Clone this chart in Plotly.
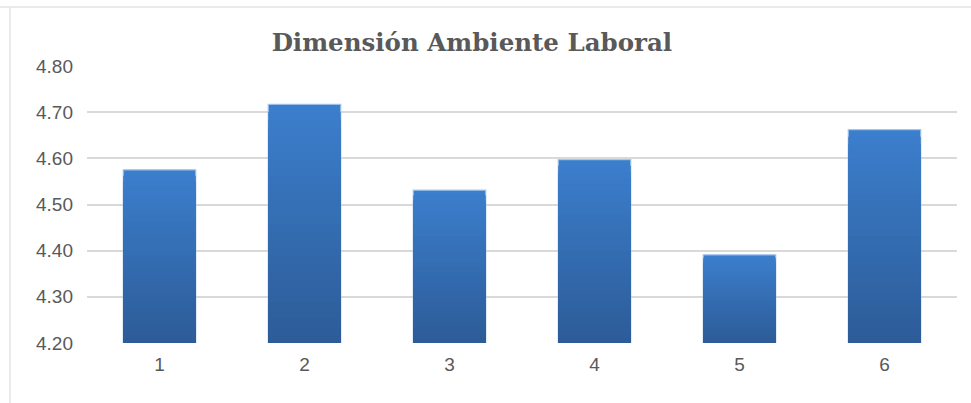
import plotly.graph_objects as go

categories = ["1", "2", "3", "4", "5", "6"]
values = [4.575, 4.717, 4.531, 4.597, 4.391, 4.662]
y_ticks = [4.20, 4.30, 4.40, 4.50, 4.60, 4.70, 4.80]
y_tick_labels = ["4.20", "4.30", "4.40", "4.50", "4.60", "4.70", "4.80"]
title_text = "Dimensión Ambiente Laboral"

base_val = 4.20
top_rgb = (59, 126, 204)
bot_rgb = (45, 92, 152)
steps = 30

fig = go.Figure()
for k in range(steps):
    frac = 1 - k / steps
    t = k / (steps - 1)
    c = tuple(round(top_rgb[i] + (bot_rgb[i] - top_rgb[i]) * t) for i in range(3))
    fig.add_trace(go.Bar(
        x=categories,
        y=[(v - base_val) * frac for v in values],
        base=[base_val] * len(values),
        marker=dict(color="rgb(%d,%d,%d)" % c,
                    line=dict(width=1.2 if k == 0 else 0, color="rgba(160,195,235,0.9)")),
        width=0.5,
        showlegend=False,
        hoverinfo="skip",
    ))

fig.update_layout(
    barmode="overlay",
    width=971, height=403,
    margin=dict(l=87, r=14, t=66, b=60),
    paper_bgcolor="white",
    plot_bgcolor="white",
    title=dict(text="<b>" + title_text + "</b>", x=0.486, xanchor="center",
               y=1 - 42 / 403, yref="container", yanchor="middle",
               font=dict(family="DejaVu Serif", size=24.5, color="#595959")),
    xaxis=dict(type="category", range=[-0.5, 5.5], showgrid=False,
               showline=False, zeroline=False, ticks="",
               tickfont=dict(family="Liberation Sans", size=19, color="#595959"),
               ticklabelstandoff=8),
    yaxis=dict(range=[4.2, 4.8], tickvals=y_ticks, ticktext=y_tick_labels,
               showgrid=True, gridcolor="#d9d9d9", gridwidth=1.5,
               zeroline=False, showline=False, ticks="",
               tickfont=dict(family="Liberation Sans", size=19, color="#595959"),
               ticklabelstandoff=13),
    shapes=[
        dict(type="line", xref="paper", yref="paper", x0=-0.5, x1=1.5,
             y0=1 + (66 - 7) / 277, y1=1 + (66 - 7) / 277,
             line=dict(color="#e3e3e3", width=1.5)),
        dict(type="line", xref="paper", yref="paper",
             x0=-(87 - 10) / 870, x1=-(87 - 10) / 870,
             y0=-1, y1=1 + (66 - 7) / 277,
             line=dict(color="#e3e3e3", width=1.5)),
    ],
)

fig.write_html("out.html", config={"displayModeBar": False},
               post_script="document.body.style.margin='0';")
